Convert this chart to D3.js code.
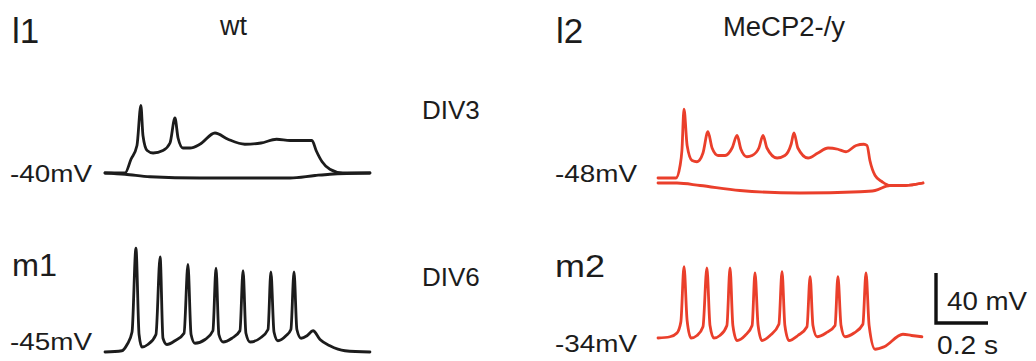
<!DOCTYPE html>
<html>
<head>
<meta charset="utf-8">
<script src="https://cdn.jsdelivr.net/npm/d3@7"></script>
<style>
  html, body { margin: 0; padding: 0; background: #ffffff; }
  svg { display: block; }
  text { font-family: "Liberation Sans", Arial, Helvetica, sans-serif; fill: #1c1c1c; }
</style>
</head>
<body>
<svg id="chart" width="1036" height="361"></svg>
<script>
// ---------------- DATA (time in ms, membrane potential in mV) ----------------
// l1: wild type, DIV3 (resting -40 mV)
const l1DepolTime = [0, 77, 100, 123, 138, 146, 162, 185, 223, 250, 269, 281, 300, 327, 365, 423, 473, 538, 600, 660, 712, 796, 812, 835, 865, 915, 1019];
const l1DepolMv   = [-40, -40, -29, -18, 14, -10, -22, -24, -22, -16, 4, -12, -20, -20, -17, -8, -13, -17, -16, -13, -14, -14, -22, -31, -37, -40, -40];
const l1HyperTime = [0, 77, 173, 365, 712, 808, 865, 1019];
const l1HyperMv   = [-40, -41, -43, -44, -44, -42, -41, -40];

// m1: wild type, DIV6 (resting -45 mV)
const m1Time = [0, 65, 85, 104, 119, 131, 142, 165, 196, 212, 223, 238, 269, 304, 319, 331, 346, 385, 415, 427, 438, 454, 488, 519, 531, 542, 558, 596, 627, 638, 650, 665, 696, 715, 727, 738, 754, 777, 800, 827, 865, 923, 1019];
const m1Mv   = [-45, -44, -39, -29, 38, -31, -41, -39, -31, 31, -34, -39, -36, -30, 25, -31, -38, -35, -28, 22, -31, -37, -34, -28, 20, -30, -37, -34, -27, 19, -29, -36, -32, -27, 19, -27, -34, -32, -28, -35, -40, -44, -45];

// l2: MeCP2-/y, DIV3 (resting -48 mV)
const l2DepolTime = [0, 69, 85, 92, 100, 112, 131, 150, 173, 192, 208, 231, 258, 285, 304, 319, 342, 362, 388, 404, 419, 458, 488, 512, 523, 538, 577, 615, 654, 692, 723, 762, 792, 804, 815, 835, 862, 892, 950, 1019];
const l2DepolMv   = [-48, -48, -38, -26, 7, -22, -34, -35, -28, -11, -24, -30, -30, -24, -14, -25, -31, -30, -24, -14, -24, -32, -30, -21, -12, -24, -32, -28, -24, -25, -27, -22, -21, -22, -34, -46, -51, -54, -54, -52];
const l2HyperTime = [0, 73, 162, 315, 546, 777, 835, 892, 950, 1019];
const l2HyperMv   = [-52, -52, -54, -58, -60, -59, -58, -54, -54, -52];

// m2: MeCP2-/y, DIV6 (resting -34 mV)
const m2Time = [0, 46, 73, 88, 100, 112, 127, 150, 173, 188, 200, 215, 238, 265, 277, 288, 304, 335, 362, 373, 385, 400, 431, 465, 477, 488, 504, 538, 573, 585, 596, 612, 646, 681, 692, 704, 719, 754, 788, 800, 812, 835, 870, 942, 975, 1015];
const m2Mv   = [-34, -33, -30, -21, 23, -20, -34, -32, -25, 22, -24, -34, -32, -24, 22, -24, -36, -32, -24, 18, -24, -36, -32, -23, 19, -24, -36, -32, -25, 15, -24, -33, -30, -24, 15, -24, -33, -30, -23, 18, -24, -43, -41, -31, -32, -33];

// labels
const panelIds     = ["l1", "l2", "m1", "m2"];
const restLabels   = ["-40mV", "-48mV", "-45mV", "-34mV"];
const restValues   = [-40, -48, -45, -34];
const groupLabels  = ["wt", "MeCP2-/y"];
const stageLabels  = ["DIV3", "DIV6"];
const scaleBarMv   = 40;   // mV
const scaleBarMs   = 200;  // ms
const scaleBarText = ["40 mV", "0.2 s"];

// ---------------- LAYOUT ----------------
const svg = d3.select("#chart");
const pxPerMs = 0.26, pxPerMv = 1.25;
const black = "#1c1c1c", red = "#ea3f2b";

// panel geometry: left of trace, y of resting potential
const layout = {
  l1: { x0: 105, yRest: 173, color: black },
  l2: { x0: 658, yRest: 178, color: red },
  m1: { x0: 105, yRest: 352, color: black },
  m2: { x0: 658, yRest: 338, color: red }
};

function scalesFor(id, i) {
  const L = layout[id];
  const rest = restValues[i];
  const x = d3.scaleLinear().domain([0, 1000]).range([L.x0, L.x0 + 1000 * pxPerMs]);
  const y = d3.scaleLinear().domain([rest - 40, rest]).range([L.yRest + 40 * pxPerMv, L.yRest]);
  return { x, y };
}

const traces = {
  l1: [[l1DepolTime, l1DepolMv], [l1HyperTime, l1HyperMv]],
  l2: [[l2DepolTime, l2DepolMv], [l2HyperTime, l2HyperMv]],
  m1: [[m1Time, m1Mv]],
  m2: [[m2Time, m2Mv]]
};

const S = {};
panelIds.forEach((id, i) => {
  const s = scalesFor(id, i);
  S[id] = s;
  const line = d3.line().x(d => s.x(d[0])).y(d => s.y(d[1])).curve(d3.curveMonotoneX);
  traces[id].forEach(([t, v]) => {
    const pts = t.map((tt, k) => [tt, v[k]]);
    svg.append("path")
      .attr("d", line(pts))
      .attr("fill", "none")
      .attr("stroke", layout[id].color)
      .attr("stroke-width", 2.8)
      .attr("stroke-linejoin", "round")
      .attr("stroke-linecap", "round");
  });
});

// ---------------- TEXT ----------------
function label(txt, x, y, size, len) {
  const t = svg.append("text").attr("x", x).attr("y", y).attr("font-size", size).text(txt);
  if (len) t.attr("textLength", len).attr("lengthAdjust", "spacingAndGlyphs");
  return t;
}
label("l1", 12, 43, 35);
label("l2", 556, 43, 35);
label("m1", 12, 276, 32, 45);
label("m2", 555, 277, 32, 50);
label(groupLabels[0], 220, 35, 27);
label(groupLabels[1], 723, 36, 27, 122);
label(stageLabels[0], 422, 119, 26);
label(stageLabels[1], 422, 286, 26);
label(restLabels[0], 10, 182, 24, 82);
label(restLabels[1], 555, 182, 24, 82);
label(restLabels[2], 10, 350, 24, 82);
label(restLabels[3], 555, 352, 24, 82);

// ---------------- SCALE BAR ----------------
const sb = S.m2;
const barLen = sb.x(scaleBarMs) - sb.x(0);
const barH = sb.y(-34 - scaleBarMv) - sb.y(-34);
const bx = 936, by = 323;
svg.append("path")
  .attr("d", `M${bx},${by - barH}V${by}H${bx + barLen}`)
  .attr("fill", "none").attr("stroke", "#111").attr("stroke-width", 3.4)
  .attr("stroke-linejoin", "miter");
label(scaleBarText[0], 947, 310, 25, 80);
label(scaleBarText[1], 937, 354, 26, 61);
</script>
</body>
</html>
